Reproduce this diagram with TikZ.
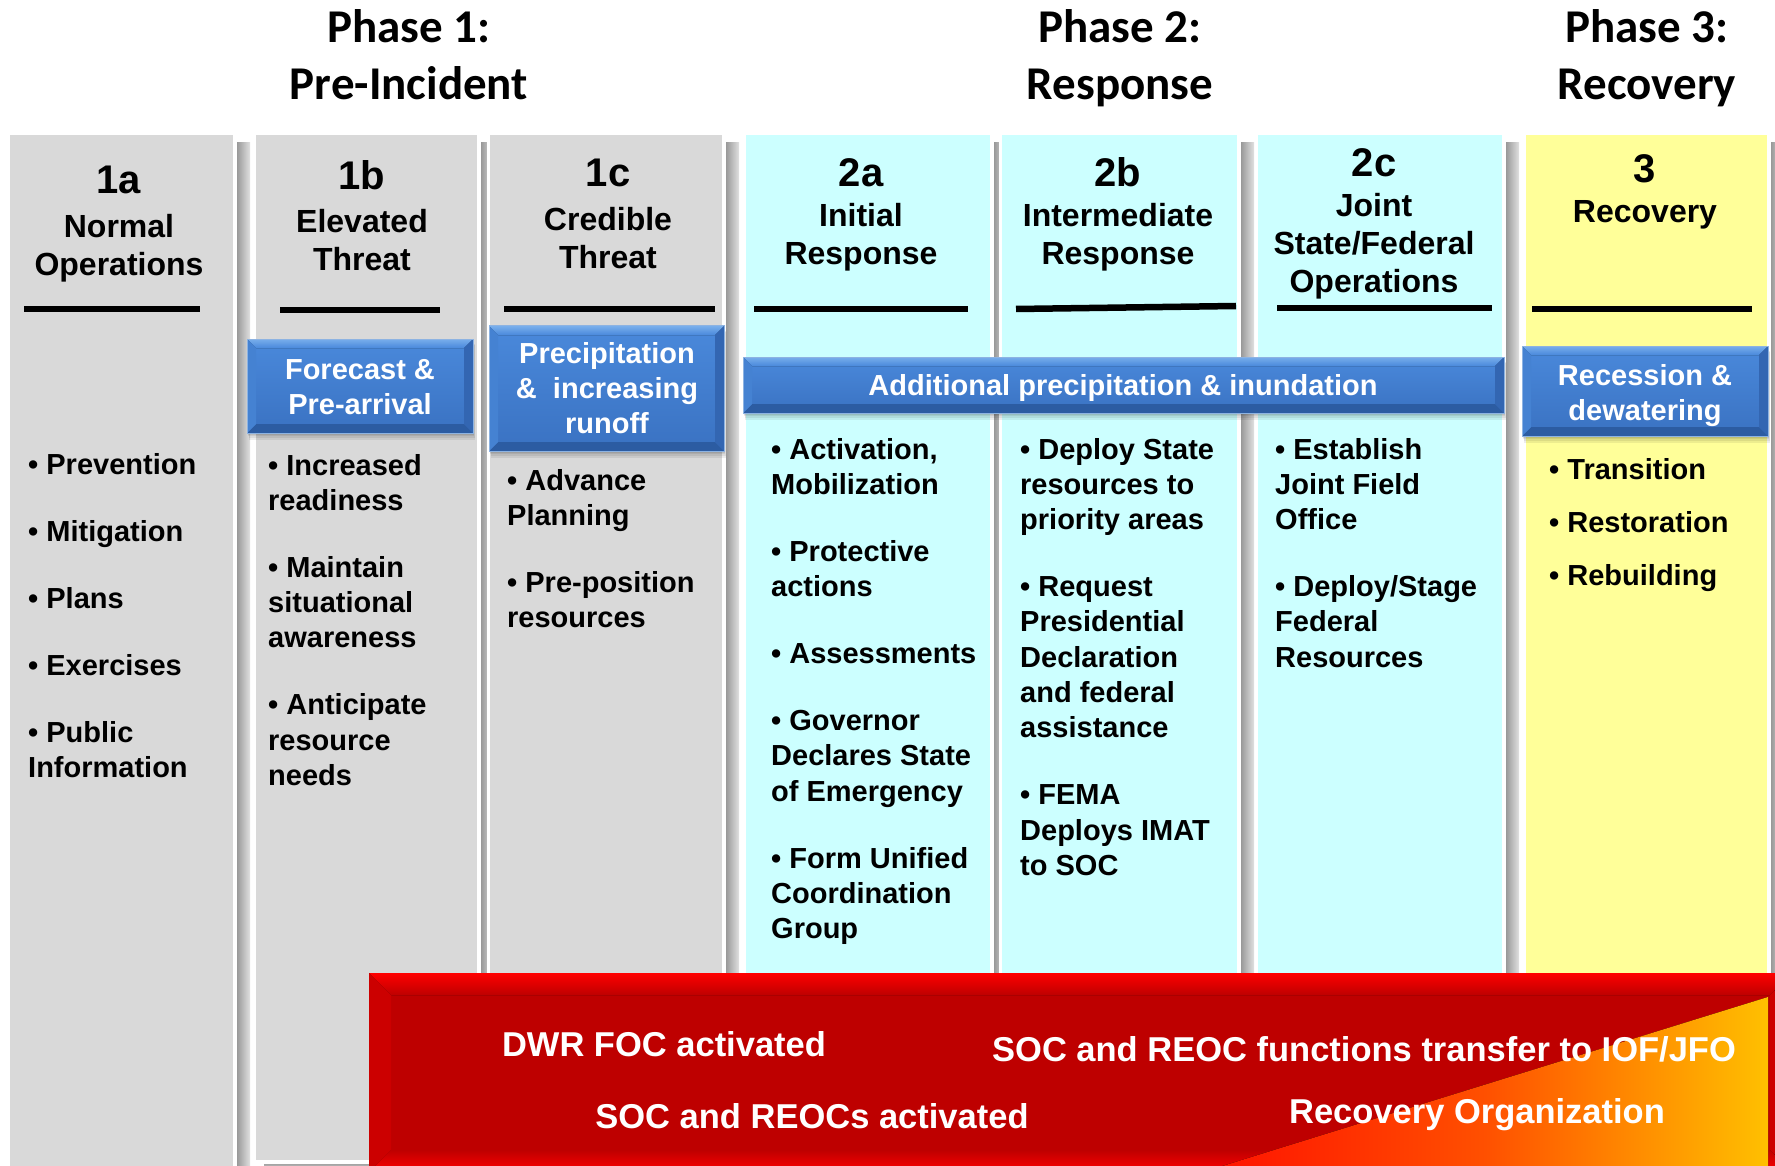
\documentclass[tikz,border=0pt]{standalone}
\usepackage{fontspec}
\setmainfont{Liberation Sans}
\newfontfamily\phasefont{Carlito}
\definecolor{colgrey}{HTML}{D9D9D9}
\definecolor{colcyan}{HTML}{CCFFFF}
\definecolor{colyellow}{HTML}{FFFF99}
\definecolor{bbLight}{HTML}{78AEEC}
\definecolor{bbTop}{HTML}{4A89DB}
\definecolor{bbBot}{HTML}{3A72C2}
\definecolor{bbLeft}{HTML}{4582D2}
\definecolor{bbRight}{HTML}{3366B2}
\definecolor{bbDark}{HTML}{2C5CA2}
\definecolor{bbEdge}{HTML}{8DB3E2}
\definecolor{rbFace}{HTML}{BE0000}
\definecolor{rbBright}{HTML}{FF0000}
\definecolor{rbSide}{HTML}{CC0000}
\definecolor{orA}{HTML}{FF1000}
\definecolor{orB}{HTML}{FF5000}
\definecolor{orC}{HTML}{FFC000}
\pgfdeclarehorizontalshading{orangeramp}{100bp}{color(0bp)=(orA); color(25bp)=(orA); color(50bp)=(orB); color(75bp)=(orC); color(100bp)=(orC)}
\newcommand\ctr[1]{\vtop{\halign{\hfil##\hfil\cr#1\crcr}}}
\newcommand\lft[1]{\vtop{\halign{##\hfil\cr#1\crcr}}}
\newcommand\pgap{\noalign{\vskip 31.7pt}}
\newcommand\sgap{\noalign{\vskip 17.7pt}}
% column with white border and right/bottom shadow: x1,y1,x2,y2,colour
\newcommand\colbox[5]{%
  \fill[left color=black!42, right color=black!12] ({#3+3},{#2+8}) rectangle ({#3+17},{#4+10});
  \fill[top color=black!38, bottom color=black!8] ({#1+8},{#4+3}) rectangle ({#3+3},{#4+14});
  \fill[#5] (#1,#2) rectangle (#3,#4);
  \draw[white, line width=3.5] ({#1-1.75},{#2-1.75}) rectangle ({#3+1.75},{#4+1.75});
}
% bevelled box: x1,y1,x2,y2,bevel,style prefix
\newcommand\bevelbox[6]{%
  \fill[#6face] (#1,#2) rectangle (#3,#4);
  \fill[#6top] (#1,#2) -- (#3,#2) -- ({#3-#5},{#2+#5}) -- ({#1+#5},{#2+#5}) -- cycle;
  \fill[#6bot] (#1,#4) -- (#3,#4) -- ({#3-#5},{#4-#5}) -- ({#1+#5},{#4-#5}) -- cycle;
  \fill[#6left] (#1,#2) -- ({#1+#5},{#2+#5}) -- ({#1+#5},{#4-#5}) -- (#1,#4) -- cycle;
  \fill[#6right] (#3,#2) -- ({#3-#5},{#2+#5}) -- ({#3-#5},{#4-#5}) -- (#3,#4) -- cycle;
}
\newcommand\softshadow[4]{%
  \foreach \k in {1,2,3,4} {\fill[black,opacity=0.07] ({#1+\k*0.6},{#2+\k*1.6}) rectangle ({#3+\k*0.6},{#4+\k*1.7});}
}
\tikzset{
  phase/.style={font=\phasefont\bfseries\fontsize{47}{57}\selectfont, anchor=base, inner sep=0pt},
  colnum/.style={font=\bfseries\fontsize{40}{48}\selectfont, anchor=base, inner sep=0pt},
  colname/.style={font=\bfseries\fontsize{32}{38}\selectfont, anchor=base, inner sep=0pt},
  bullets/.style={font=\bfseries\fontsize{29}{35.3}\selectfont, anchor=base west, inner sep=0pt},
  boxtext/.style={font=\bfseries\fontsize{29}{35}\selectfont, anchor=base, inner sep=0pt, text=white},
  redtext/.style={font=\bfseries\fontsize{34.5}{41}\selectfont, anchor=base, inner sep=0pt, text=white},
  rule/.style={line width=6.5pt, black},
  bbface/.style={top color=bbTop, bottom color=bbBot},
  bbtop/.style={top color=bbLight, bottom color=bbTop},
  bbbot/.style={fill=bbDark},
  bbleft/.style={fill=bbLeft},
  bbright/.style={fill=bbRight},
  rbface/.style={fill=rbFace},
  rbtop/.style={top color=rbBright, bottom color=rbFace},
  rbbot/.style={top color=rbFace, bottom color=rbBright},
  rbleft/.style={fill=rbSide},
  rbright/.style={fill=rbSide},
}
\begin{document}
\begin{tikzpicture}[x=1pt,y=-1pt]
\useasboundingbox (0,0) rectangle (1775,1166);
\clip (0,0) rectangle (1775,1166);
\fill[white] (0,0) rectangle (1775,1166);

% phase titles
\node[phase] (ph1) at (409,43) {\ctr{Phase 1:\cr Pre-Incident}};
\node[phase] (ph2) at (1120,43) {\ctr{Phase 2:\cr Response}};
\node[phase] (ph3) at (1647,43) {\ctr{Phase 3:\cr Recovery}};

% columns
\colbox{10}{135}{233}{1190}{colgrey}
\colbox{256}{135}{477}{1160}{colgrey}
\colbox{490}{135}{722}{1160}{colgrey}
\colbox{746}{135}{990}{1160}{colcyan}
\colbox{1002}{135}{1237}{1160}{colcyan}
\colbox{1258}{135}{1502}{1160}{colcyan}
\colbox{1526}{135}{1767}{1160}{colyellow}

% column headers
\node[colnum] (n1a) at (119,194) {1a};
\node[colname] (t1a) at (119,238) {\ctr{Normal\cr Operations}};
\node[colnum] (n1b) at (362,190) {1b};
\node[colname] (t1b) at (362,233) {\ctr{Elevated\cr Threat}};
\node[colnum] (n1c) at (608,187) {1c};
\node[colname] (t1c) at (608,231) {\ctr{Credible\cr Threat}};
\node[colnum] (n2a) at (861,187) {2a};
\node[colname] (t2a) at (861,227) {\ctr{Initial\cr Response}};
\node[colnum] (n2b) at (1118,187) {2b};
\node[colname] (t2b) at (1118,227) {\ctr{Intermediate\cr Response}};
\node[colnum] (n2c) at (1374,177) {2c};
\node[colname] (t2c) at (1374,217) {\ctr{Joint\cr State/Federal\cr Operations}};
\node[colnum] (n3) at (1645,183) {3};
\node[colname] (t3) at (1645,223) {\ctr{Recovery}};

% header rules
\draw[rule] (24,309) -- (200,309);
\draw[rule] (280,310) -- (440,310);
\draw[rule] (504,309) -- (715,309);
\draw[rule] (754,309) -- (968,309);
\draw[rule] (1016,309) -- (1236,306);
\draw[rule] (1277,308) -- (1492,308);
\draw[rule] (1532,309) -- (1752,309);

% blue bevelled boxes
\softshadow{247}{339}{473}{433}
\bevelbox{247}{339}{473}{433}{9}{bb}
\draw[bbEdge, line width=1pt] (247,339) rectangle (473,433);
\node[boxtext] (bfore) at (360,379) {\ctr{Forecast \&\cr Pre-arrival}};

\softshadow{489}{326}{724}{451}
\bevelbox{489}{326}{724}{451}{9}{bb}
\draw[bbEdge, line width=1pt] (489,326) rectangle (724,451);
\node[boxtext] (bprec) at (607,363) {\ctr{Precipitation\cr \&\ \ increasing\cr runoff}};

\softshadow{743}{357}{1504}{413}
\bevelbox{743}{357}{1504}{413}{9}{bb}
\draw[bbEdge, line width=1pt] (743,357) rectangle (1504,413);
\node[boxtext] (badd) at (1123,395) {Additional precipitation \& inundation};

\softshadow{1522}{346}{1768}{436}
\bevelbox{1522}{346}{1768}{436}{9}{bb}
\draw[bbEdge, line width=1pt] (1522,346) rectangle (1768,436);
\node[boxtext] (brec) at (1645,385) {\ctr{Recession \&\cr dewatering}};

% bullet lists
\node[bullets] (l1a) at (28,474) {\lft{• Prevention\cr\pgap • Mitigation\cr\pgap • Plans\cr\pgap • Exercises\cr\pgap • Public\cr Information}};
\node[bullets] (l1b) at (268,475) {\lft{• Increased\cr readiness\cr\pgap • Maintain\cr situational\cr awareness\cr\pgap • Anticipate\cr resource\cr needs}};
\node[bullets] (l1c) at (507,490) {\lft{• Advance\cr Planning\cr\pgap • Pre-position\cr resources}};
\node[bullets] (l2a) at (771,459) {\lft{• Activation,\cr Mobilization\cr\pgap • Protective\cr actions\cr\pgap • Assessments\cr\pgap • Governor\cr Declares State\cr of Emergency\cr\pgap • Form Unified\cr Coordination\cr Group}};
\node[bullets] (l2b) at (1020,459) {\lft{• Deploy State\cr resources to\cr priority areas\cr\pgap • Request\cr Presidential\cr Declaration\cr and federal\cr assistance\cr\pgap • FEMA\cr Deploys IMAT\cr to SOC}};
\node[bullets] (l2c) at (1275,459) {\lft{• Establish\cr Joint Field\cr Office\cr\pgap • Deploy/Stage\cr Federal\cr Resources}};
\node[bullets] (l3) at (1549,479) {\lft{• Transition\cr\sgap • Restoration\cr\sgap • Rebuilding}};

% red bevelled band
\bevelbox{369}{973}{1792}{1172}{22}{rb}
\fill[shading=orangeramp] (1203,1172) -- (1768,997) -- (1768,1172) -- cycle;
\node[redtext] (rdwr) at (664,1056) {DWR FOC activated};
\node[redtext] (rsoc) at (812,1128) {SOC and REOCs activated};
\node[redtext] (rtrans) at (1364,1061) {SOC and REOC functions transfer to IOF/JFO};
\node[redtext] (rrec) at (1477,1123) {Recovery Organization};
\end{tikzpicture}
\end{document}
